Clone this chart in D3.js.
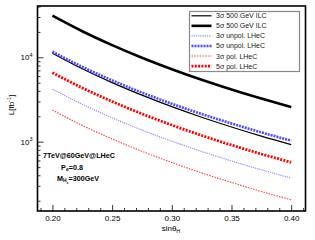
<!DOCTYPE html>
<html>
<head>
<meta charset="utf-8">
<script src="https://cdn.jsdelivr.net/npm/d3@7"></script>
<style>
body{margin:0;background:#fff;}
svg{display:block;font-family:"Liberation Sans",Arial,sans-serif;}
</style>
</head>
<body>
<div id="chart"></div>
<script>
// sin(theta_H) sample points
var sinTheta=[0.200,0.225,0.250,0.275,0.300,0.325,0.350,0.375,0.400];
// required luminosity L [fb^-1]
var ilc3=[11200,7320,5015,3560,2600,1950,1495,1165,925];
var ilc5=[31100,20340,13930,9880,7225,5415,4150,3240,2565];
var unpol3=[4195,2780,1920,1375,1015,767,592,465,371];
var unpol5=[11650,7715,5335,3820,2820,2130,1645,1290,1030];
var pol3=[2370,1560,1080,770,567,427,329,257,205];
var pol5=[6580,4340,2995,2140,1575,1185,913,715,570];

var legendLabels=["3σ 500 GeV ILC","5σ 500 GeV ILC","3σ unpol. LHeC","5σ unpol. LHeC","3σ pol. LHeC","5σ pol. LHeC"];
var xMajor=[0.20,0.25,0.30,0.35,0.40];
var xMinor=[0.19,0.21,0.22,0.23,0.24,0.26,0.27,0.28,0.29,0.31,0.32,0.33,0.34,0.36,0.37,0.38,0.39,0.41];
var yMajor=[1e3,1e4];
var yMinor=[200,300,400,500,600,700,800,900,2000,3000,4000,5000,6000,7000,8000,9000,20000,30000,40000];

var series=[
  {name:legendLabels[0],v:ilc3,color:"#000",w:1.2,dash:null},
  {name:legendLabels[1],v:ilc5,color:"#000",w:2.6,dash:null},
  {name:legendLabels[2],v:unpol3,color:"#8c8cff",w:1.2,dash:"1.2,1"},
  {name:legendLabels[3],v:unpol5,color:"#4b4bff",w:2.6,dash:"2,1"},
  {name:legendLabels[4],v:pol3,color:"#ff4a4a",w:1.2,dash:"1.5,1.2"},
  {name:legendLabels[5],v:pol5,color:"#ff0000",w:2.8,dash:"2,1.3"}
];

var W=315,H=240,margin={left:37.5,top:6,right:9.5,bottom:29};

var svg=d3.select("#chart").append("svg")
  .attr("width",W).attr("height",H);

var x=d3.scaleLinear().domain([0.1875,0.412]).range([margin.left,W-margin.right]);
var y=d3.scaleLog().domain([151,40550]).range([H-margin.bottom,margin.top]);

// x axis ticks (inside)
svg.append("g").attr("transform","translate(0,"+(H-margin.bottom)+")")
  .call(d3.axisBottom(x).tickValues(xMinor).tickSize(-3).tickFormat(""))
  .call(function(g){g.select(".domain").remove();});
svg.append("g").attr("class","xax").attr("transform","translate(0,"+(H-margin.bottom)+")")
  .call(d3.axisBottom(x).tickValues(xMajor).tickSizeInner(-6).tickSizeOuter(0).tickPadding(4).tickFormat(d3.format(".2f")))
  .call(function(g){g.select(".domain").remove();});

// y axis ticks (inside)
svg.append("g").attr("transform","translate("+margin.left+",0)")
  .call(d3.axisLeft(y).tickValues(yMinor).tickSize(-3).tickFormat(""))
  .call(function(g){g.select(".domain").remove();});
var yax=svg.append("g").attr("transform","translate("+margin.left+",0)")
  .call(d3.axisLeft(y).tickValues(yMajor).tickSizeInner(-6).tickSizeOuter(0).tickFormat(""))
  .call(function(g){g.select(".domain").remove();});

svg.selectAll(".tick line").attr("stroke","#000").attr("stroke-width",0.8);
svg.selectAll(".xax text").style("font-size","8px").attr("fill","#000");

// 10^n labels
var ylab=svg.append("g").selectAll("text").data(yMajor).enter().append("text")
  .attr("x",margin.left-5).attr("y",function(d){return y(d)+3;})
  .attr("text-anchor","end").style("font-size","8px");
ylab.append("tspan").text("10");
ylab.append("tspan").attr("dy",-3.5).style("font-size","5.5px").text(function(d){return Math.round(Math.log10(d));});

// curves
var line=d3.line()
  .x(function(d,i){return x(sinTheta[i]);})
  .y(function(d){return y(d);})
  .curve(d3.curveMonotoneX);

svg.append("g").selectAll("path").data(series).enter().append("path")
  .attr("d",function(d){return line(d.v);})
  .attr("fill","none")
  .attr("stroke",function(d){return d.color;})
  .attr("stroke-width",function(d){return d.w;})
  .attr("stroke-dasharray",function(d){return d.dash;});

// frame
svg.append("rect")
  .attr("x",margin.left).attr("y",margin.top)
  .attr("width",W-margin.left-margin.right).attr("height",H-margin.top-margin.bottom)
  .attr("fill","none").attr("stroke","#000").attr("stroke-width",1.6);

// legend
var lg=svg.append("g").attr("transform","translate(189.5,11.5)");
lg.append("rect").attr("width",110).attr("height",60)
  .attr("fill","#fff").attr("stroke","#888").attr("stroke-width",1.2);
var item=lg.selectAll("g.it").data(series).enter().append("g")
  .attr("transform",function(d,i){return "translate(0,"+(4.3+i*10.05)+")";});
item.append("line").attr("x1",2).attr("x2",22).attr("y1",0).attr("y2",0)
  .attr("stroke",function(d){return d.color;})
  .attr("stroke-width",function(d){return d.w;})
  .attr("stroke-dasharray",function(d){return d.dash;});
item.append("text").attr("x",26.5).attr("y",2.5)
  .style("font-size","7px").style("fill","#222").text(function(d){return d.name;});

// annotation
var ann=svg.append("g").attr("text-anchor","middle").style("font-size","7.2px").style("font-weight","bold");
ann.append("text").attr("x",79).attr("y",158).text("7TeV@60GeV@LHeC");
var t2=ann.append("text").attr("x",72).attr("y",169.5);
t2.append("tspan").text("P");
t2.append("tspan").attr("dy",1.8).style("font-size","5px").text("e");
t2.append("tspan").attr("dy",-1.8).text("=0.8");
var t3=ann.append("text").attr("x",78).attr("y",180.5);
t3.append("tspan").text("M");
t3.append("tspan").attr("dy",1.8).style("font-size","5px").text("H");
t3.append("tspan").attr("dy",1.5).style("font-size","3.5px").text("s");
t3.append("tspan").attr("dy",-3.3).text("=300GeV");

// axis titles
var xt=svg.append("text").attr("x",171).attr("y",231).attr("text-anchor","middle").style("font-size","8px");
xt.append("tspan").text("sinθ");
xt.append("tspan").attr("dy",2).style("font-size","5.5px").text("H");

var yt=svg.append("text").attr("transform","translate(14,105)rotate(-90)")
  .attr("text-anchor","middle").style("font-size","8px");
yt.append("tspan").text("L[fb");
yt.append("tspan").attr("dy",-3).style("font-size","5.5px").text("-1");
yt.append("tspan").attr("dy",3).text("]");
</script>
</body>
</html>
